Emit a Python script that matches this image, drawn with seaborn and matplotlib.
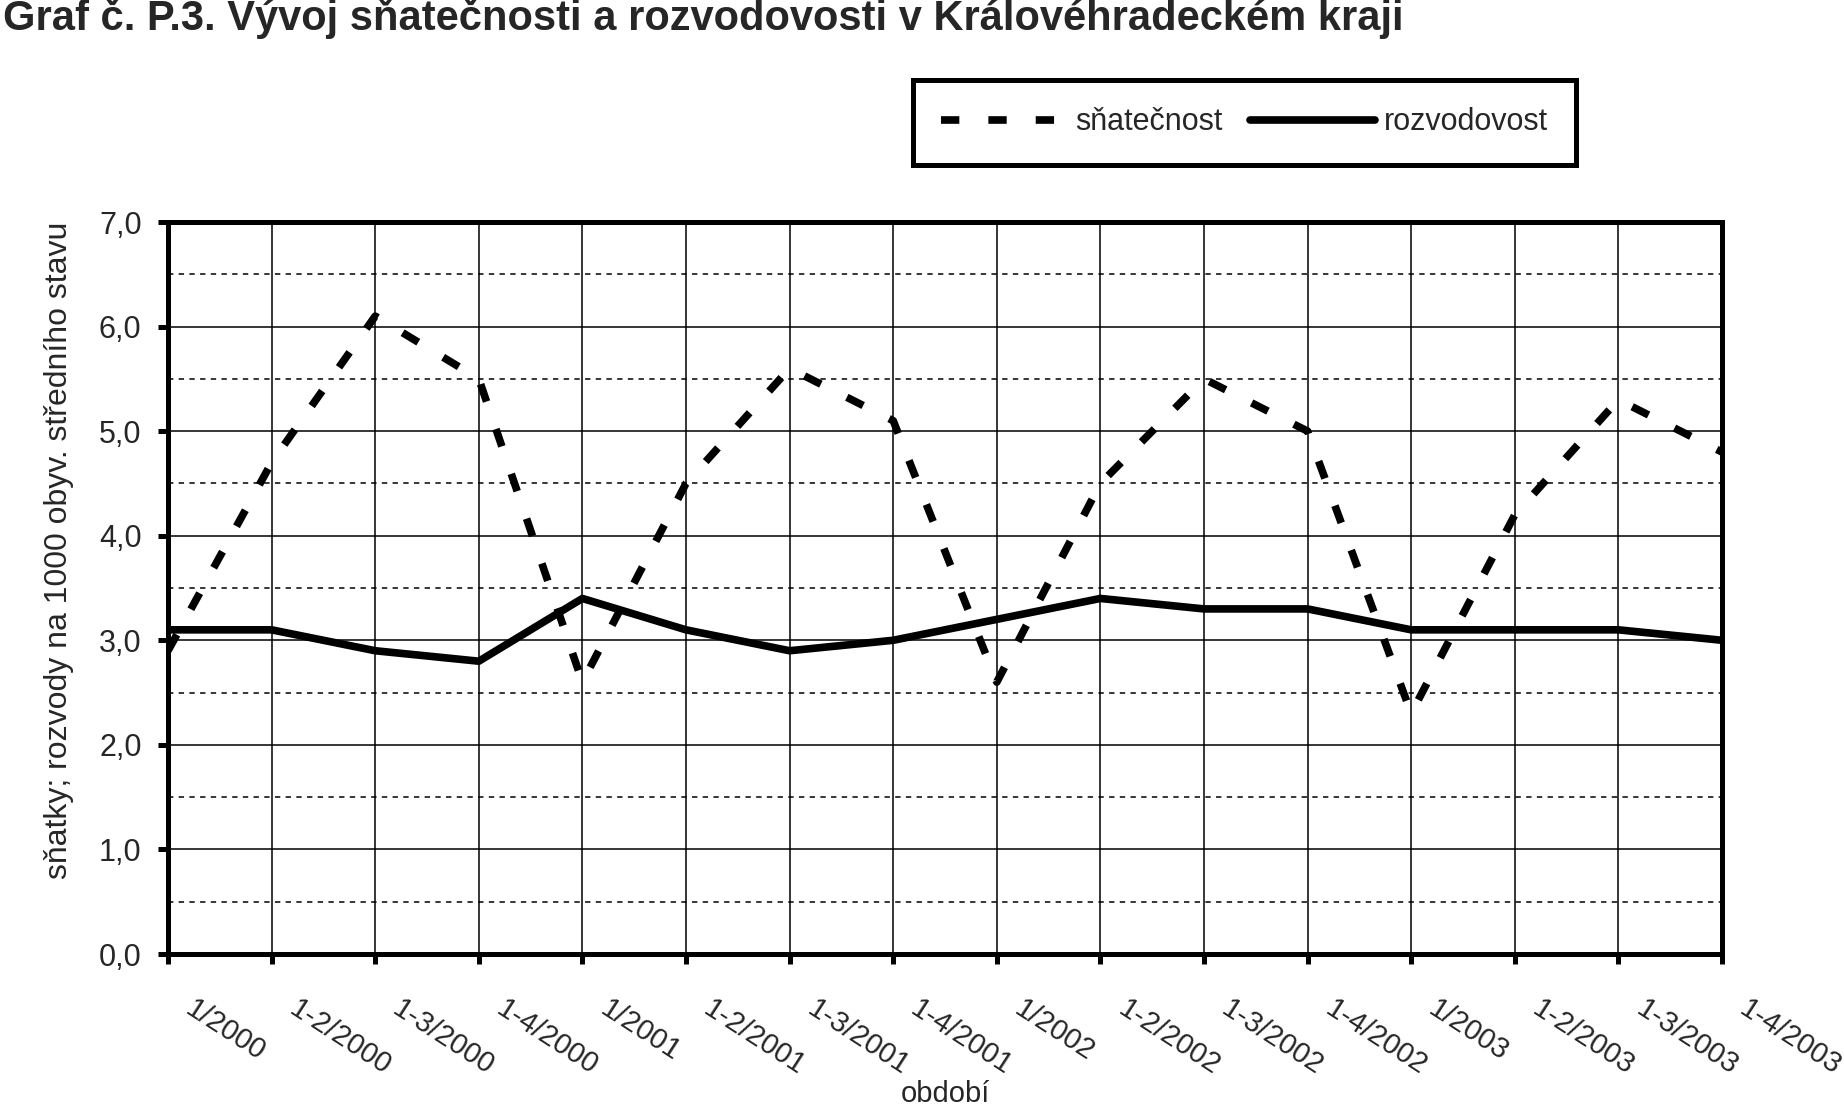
import pandas as pd
import matplotlib
matplotlib.use('Agg')
import matplotlib.pyplot as plt
import matplotlib.transforms as mtransforms
from matplotlib.ticker import FixedLocator, MultipleLocator
import seaborn as sns

# Data (na 1000 obyv. středního stavu)
obdobi = ['1/2000', '1-2/2000', '1-3/2000', '1-4/2000',
          '1/2001', '1-2/2001', '1-3/2001', '1-4/2001',
          '1/2002', '1-2/2002', '1-3/2002', '1-4/2002',
          '1/2003', '1-2/2003', '1-3/2003', '1-4/2003']
snatecnost = [2.9, 4.7, 6.1, 5.5, 2.6, 4.5, 5.6, 5.1,
              2.6, 4.5, 5.5, 5.0, 2.3, 4.2, 5.3, 4.8]
rozvodovost = [3.1, 3.1, 2.9, 2.8, 3.4, 3.1, 2.9, 3.0,
               3.2, 3.4, 3.3, 3.3, 3.1, 3.1, 3.1, 3.0]
y_ticks = [0, 1, 2, 3, 4, 5, 6, 7]
y_labels = ['0,0', '1,0', '2,0', '3,0', '4,0', '5,0', '6,0', '7,0']

nazev = 'Graf č. P.3. Vývoj sňatečnosti a rozvodovosti v Královéhradeckém kraji'

df = pd.DataFrame({'obdobi': obdobi, 'snatecnost': snatecnost, 'rozvodovost': rozvodovost})

sns.set_style('white')
plt.rcParams['font.family'] = ['Liberation Sans', 'DejaVu Sans']

fig = plt.figure(figsize=(18.44, 11.11), dpi=100)
ax = fig.add_axes([168 / 1844, 157 / 1111, 1554 / 1844, 732 / 1111])

sns.lineplot(data=df, x='obdobi', y='snatecnost', ax=ax, color='black',
             linewidth=5.5, linestyle=(0, (2.4, 3.8)), label='sňatečnost', sort=False)
sns.lineplot(data=df, x='obdobi', y='rozvodovost', ax=ax, color='black',
             linewidth=5.5, label='rozvodovost', sort=False)

ax.set_xlim(0, len(obdobi) - 1)
ax.set_ylim(0, 7)

# mřížka
ax.yaxis.set_major_locator(FixedLocator(y_ticks))
ax.set_yticklabels(y_labels)
ax.yaxis.set_minor_locator(MultipleLocator(0.5))
ax.grid(True, which='major', axis='both', color='black', linewidth=1.1)
ax.grid(True, which='minor', axis='y', color='black', linewidth=1.1, linestyle=(0, (3.5, 3.5)))
ax.set_axisbelow(True)

for s in ax.spines.values():
    s.set_visible(True)
    s.set_linewidth(3.6)
    s.set_color('black')

ax.tick_params(axis='y', which='major', direction='out', length=7, width=3.6,
               labelsize=22, pad=12, left=True, color='black')
ax.tick_params(axis='y', which='minor', length=0)
ax.tick_params(axis='x', which='major', direction='out', length=7, width=3.6,
               labelsize=21, pad=22, bottom=True, color='black')

offset = mtransforms.ScaledTranslation(0.28, 0, fig.dpi_scale_trans)
for lab in ax.get_xticklabels():
    lab.set_rotation(-33)
    lab.set_ha('left')
    lab.set_va('top')
    lab.set_rotation_mode('anchor')
    lab.set_transform(lab.get_transform() + offset)

ax.set_xlabel('období', fontsize=21)
ax.xaxis.set_label_coords(0.5, -0.172)
ax.set_ylabel('sňatky; rozvody na 1000 obyv. středního stavu', fontsize=23)
ax.yaxis.set_label_coords(-0.0605, 0.552)

# legenda nahoře
handles, labels = ax.get_legend_handles_labels()
ax.get_legend().remove()
leg = fig.legend(handles, labels, loc='upper left', bbox_to_anchor=(913 / 1844, 1 - 80 / 1111),
                 ncol=2, fontsize=22, handlelength=4.1, handletextpad=0.3, columnspacing=0.9,
                 borderpad=0.9, borderaxespad=0, fancybox=False, framealpha=1)
leg.get_frame().set_edgecolor('black')
leg.get_frame().set_linewidth(3.6)

fig.text(3 / 1844, 1 - 30 / 1111, nazev, fontsize=30, fontweight='bold', ha='left', va='baseline')

fig.savefig('out.png', dpi=100, facecolor='white')
